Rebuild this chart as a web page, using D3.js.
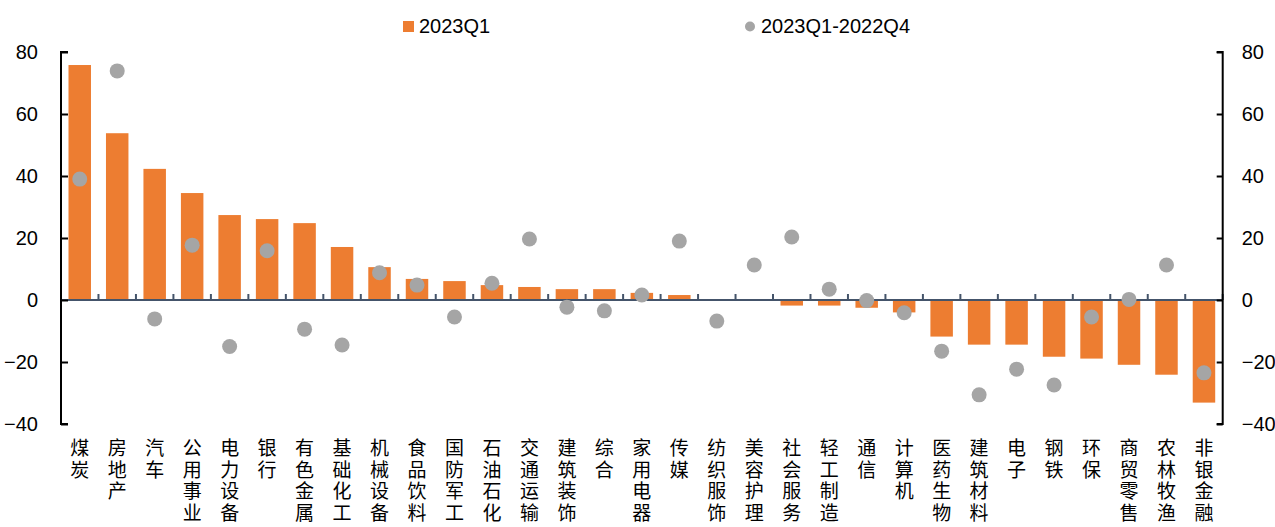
<!DOCTYPE html>
<html>
<head>
<meta charset="utf-8">
<script src="https://cdn.jsdelivr.net/npm/d3@7"></script>
<style>
  html, body { margin: 0; padding: 0; background: #fff; }
  svg { display: block; }
  text { font-family: "Liberation Sans", Arial, sans-serif; fill: #000; }
  .cat { font-family: "Liberation Sans", "Noto Sans CJK SC", sans-serif; font-size: 19px; }
</style>
</head>
<body>
<svg id="chart" width="1275" height="527"></svg>
<script>
const categories = ["煤炭","房地产","汽车","公用事业","电力设备","银行","有色金属","基础化工","机械设备","食品饮料","国防军工","石油石化","交通运输","建筑装饰","综合","家用电器","传媒","纺织服饰","美容护理","社会服务","轻工制造","通信","计算机","医药生物","建筑材料","电子","钢铁","环保","商贸零售","农林牧渔","非银金融"];
const q1 = [75.8, 53.8, 42.3, 34.5, 27.4, 26.1, 24.8, 17.1, 10.6, 6.8, 6.1, 4.8, 4.2, 3.5, 3.5, 2.3, 1.6, 0.2, -0.2, -1.8, -1.8, -2.5, -4.0, -11.8, -14.4, -14.4, -18.3, -18.9, -20.9, -24.1, -33.1];
const diff = [39.0, 73.9, -6.1, 17.7, -15.0, 15.9, -9.4, -14.5, 8.8, 4.8, -5.5, 5.4, 19.7, -2.3, -3.5, 1.6, 19.0, -6.8, 11.3, 20.3, 3.5, -0.2, -4.1, -16.5, -30.6, -22.3, -27.4, -5.5, 0.2, 11.3, -23.5];
const yTicks = [80, 60, 40, 20, 0, -20, -40];
const seriesNames = ["2023Q1", "2023Q1-2022Q4"];

const pLeft = 61, pRight = 1222.7, pTop = 52, pBottom = 424;
const svg = d3.select("#chart");

const x = d3.scaleBand().domain(categories).range([pLeft, pRight]).paddingInner(0.4).paddingOuter(0.2);
const y = d3.scaleLinear().domain([-40, 80]).range([pBottom, pTop]);

// bars
svg.append("g").selectAll("rect").data(categories).join("rect")
  .attr("x", d => x(d))
  .attr("width", x.bandwidth())
  .attr("y", (d, i) => y(Math.max(0, q1[i])))
  .attr("height", (d, i) => Math.abs(y(q1[i]) - y(0)))
  .attr("fill", "#ED7D31");

// x axis line at zero
const gx = svg.append("g");
gx.append("line").attr("x1", pLeft).attr("x2", pRight).attr("y1", y(0)).attr("y2", y(0))
  .attr("stroke", "#44546A").attr("stroke-width", 2);
const step = x.step();
gx.selectAll("line.tk").data(categories.slice(1).concat(["__end"])).join("line")
  .attr("class", "tk")
  .attr("x1", (d, i) => i < categories.length - 1 ? x(d) - step * x.paddingInner() / 2 : pRight)
  .attr("x2", (d, i) => i < categories.length - 1 ? x(d) - step * x.paddingInner() / 2 : pRight)
  .attr("y1", y(0)).attr("y2", y(0) - 6)
  .attr("stroke", "#44546A").attr("stroke-width", 2);

// dots
svg.append("g").selectAll("circle").data(categories).join("circle")
  .attr("cx", d => x(d) + x.bandwidth() / 2)
  .attr("cy", (d, i) => y(diff[i]))
  .attr("r", 7.5)
  .attr("fill", "#A5A5A5");

// left axis
const gl = svg.append("g").attr("transform", `translate(${pLeft},0)`)
  .call(d3.axisRight(y).tickValues(yTicks).tickSize(7).tickFormat(d3.format("d")));
gl.select(".domain").attr("stroke", "#000").attr("stroke-width", 2).attr("d", `M7,${pTop}H0V${pBottom}H7`);
gl.selectAll(".tick line").attr("stroke", "#000").attr("stroke-width", 2);
gl.selectAll(".tick text").attr("x", -23).attr("text-anchor", "end").attr("font-size", 20)
  .attr("font-family", "Liberation Sans, Arial, sans-serif").attr("fill", "#000");

// right axis
const gr = svg.append("g").attr("transform", `translate(${pRight},0)`)
  .call(d3.axisLeft(y).tickValues(yTicks).tickSize(6).tickFormat(d3.format("d")));
gr.select(".domain").attr("stroke", "#000").attr("stroke-width", 2).attr("d", `M-6,${pTop}H0V${pBottom}H-6`);
gr.selectAll(".tick line").attr("stroke", "#000").attr("stroke-width", 2);
gr.selectAll(".tick text").attr("x", 19).attr("text-anchor", "start").attr("font-size", 20)
  .attr("font-family", "Liberation Sans, Arial, sans-serif").attr("fill", "#000");

// category labels, one character per line
const labels = svg.append("g").selectAll("g").data(categories).join("g");
labels.each(function(d) {
  const g = d3.select(this);
  const cx = x(d) + x.bandwidth() / 2;
  Array.from(d).forEach((ch, j) => {
    g.append("text").attr("class", "cat").attr("text-anchor", "middle")
      .attr("x", cx).attr("y", 455 + j * 21.7).text(ch);
  });
});

// legend
const lg = svg.append("g");
lg.append("rect").attr("x", 403).attr("y", 21).attr("width", 11).attr("height", 11).attr("fill", "#ED7D31");
lg.append("text").attr("x", 419).attr("y", 33).attr("font-size", 20).text(seriesNames[0]);
lg.append("circle").attr("cx", 750).attr("cy", 26.5).attr("r", 5).attr("fill", "#A5A5A5");
lg.append("text").attr("x", 761).attr("y", 33).attr("font-size", 20).text(seriesNames[1]);
</script>
</body>
</html>
